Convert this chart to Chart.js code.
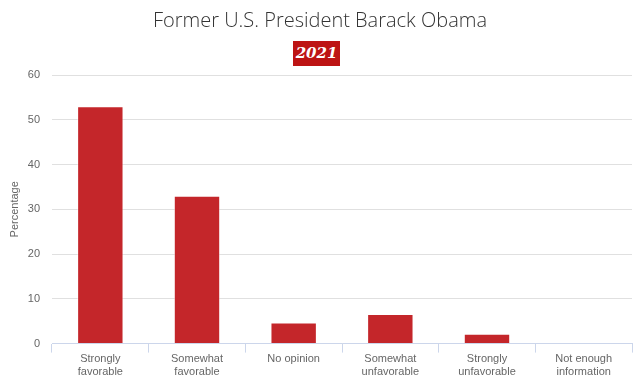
<!DOCTYPE html>
<html><head><meta charset="utf-8">
<script src="https://cdn.jsdelivr.net/npm/chart.js@4/dist/chart.umd.min.js"></script>
<style>
html,body{margin:0;padding:0;background:#fff;}
#wrap{position:relative;width:640px;height:384px;}
#title{position:absolute;left:0;top:6px;width:640px;text-align:center;font-family:"Open Sans","Noto Sans",sans-serif;font-weight:300;font-size:20px;color:#333;}
#badge{position:absolute;left:293px;top:41px;width:47px;height:25px;background:#bd1414;color:#fff;font-family:"DejaVu Serif","Liberation Serif",serif;font-style:italic;font-weight:bold;font-size:15px;line-height:25px;text-align:center;}
canvas{position:absolute;left:0;top:0;}
</style></head>
<body>
<div id="wrap">
<canvas id="c" width="640" height="384"></canvas>
<div id="title">Former U.S. President Barack Obama</div>
<div id="badge">2021</div>
</div>
<script>
const categories = [["Strongly","favorable"],["Somewhat","favorable"],["No opinion"],["Somewhat","unfavorable"],["Strongly","unfavorable"],["Not enough","information"]];
const values = [53, 33, 4.7, 6.6, 2.2, 0.2];
const yTicks = [0,10,20,30,40,50,60];
const yTitle = "Percentage";

new Chart(document.getElementById('c'), {
  type: 'bar',
  data: {
    labels: categories,
    datasets: [{
      data: values,
      backgroundColor: '#c4262a',
      borderColor: 'rgba(255,255,255,0.45)',
      borderWidth: 1,
      categoryPercentage: 1,
      barPercentage: 0.48
    }]
  },
  options: {
    responsive: false,
    animation: false,
    layout: { padding: { top: 75, right: 8, bottom: 5, left: 8 } },
    plugins: { legend: { display: false }, tooltip: { enabled: false } },
    scales: {
      x: {
        offset: true,
        grid: { offset: true, drawOnChartArea: false, drawTicks: true, tickLength: 9, color: '#ccd6eb' },
        border: { color: '#ccd6eb' },
        ticks: { color: '#666', font: { family: 'Liberation Sans, Arial, sans-serif', size: 11 }, padding: 0, maxRotation: 0, autoSkip: false }
      },
      y: {
        min: 0, max: 60,
        afterBuildTicks: s => { s.ticks = yTicks.map(v => ({ value: v })); },
        afterFit: s => { s.width = 44; },
        grid: { color: '#e0e0e0', drawTicks: false },
        border: { display: false },
        ticks: { color: '#666', font: { family: 'Liberation Sans, Arial, sans-serif', size: 11 }, padding: 12 },
        title: { display: true, text: yTitle, color: '#666', font: { family: 'Liberation Sans, Arial, sans-serif', size: 11 }, padding: 0 }
      }
    }
  }
});
</script>
</body></html>
